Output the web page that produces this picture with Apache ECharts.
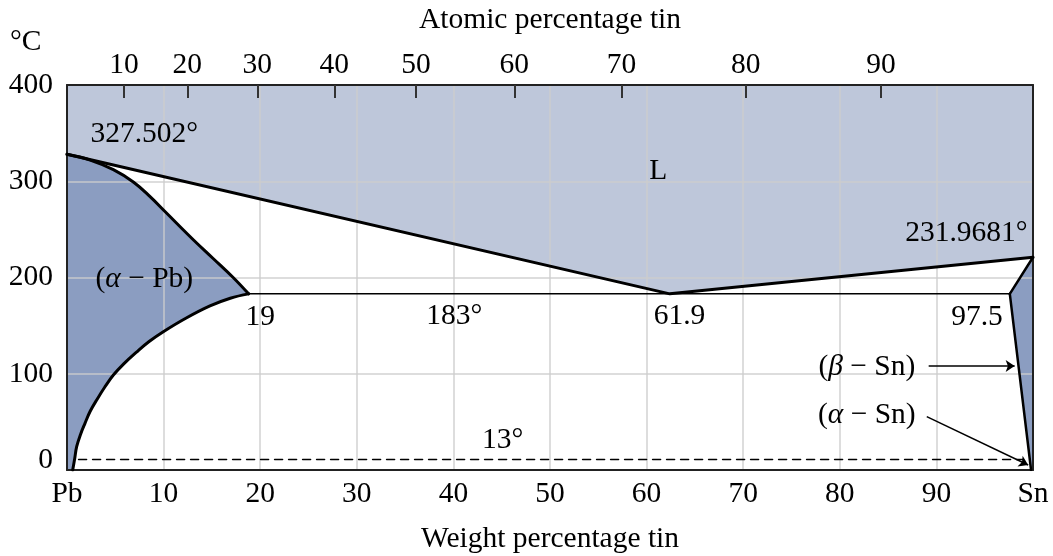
<!DOCTYPE html>
<html>
<head>
<meta charset="utf-8">
<title>Pb-Sn</title>
<script src="https://cdn.jsdelivr.net/npm/echarts@6/dist/echarts.min.js"></script>
<style>html,body{margin:0;padding:0;background:#fff}</style>
</head>
<body>
<div id="main" style="width:1053px;height:556px"></div>
<script type="text/javascript">
// weight % tin on bottom axis, temperature (deg C) on left axis
var weightTicks = [0, 10, 20, 30, 40, 50, 60, 70, 80, 90, 100];
var tempTicks = [0, 100, 200, 300, 400];
// atomic % tin labels on top axis and where they fall in weight %
var atomicTicks = [10, 20, 30, 40, 50, 60, 70, 80, 90];
var atomicTickPos = [5.9, 12.45, 19.7, 27.67, 36.13, 46.3, 57.4, 70.26, 84.27];

// phase boundaries [wt% Sn, temp]
var liquidus = [[0, 328], [62.4, 183], [100, 221]];
var solidusPb = [[0, 328], [2.4, 322], [4.8, 312], [6.9, 299], [8.6, 284], [10.3, 267],
                 [13.1, 239], [15.1, 220], [17.2, 200], [18.8, 183]];
var solvusPb = [[0.59, 0], [0.8, 12], [1.0, 24.2], [1.4, 37], [1.86, 48.5], [2.4, 61], [3.07, 72.7],
                [3.9, 86], [4.8, 98.7], [5.9, 110.5], [7.2, 122.5], [8.5, 133.5], [9.97, 143.7],
                [12.3, 157.7], [14.8, 170.5], [16.9, 178.5], [18.8, 183]];
var eutectic = [[18.8, 183], [97.6, 183]];
var solidusSn = [[97.6, 183], [100, 221]];
var solvusSn = [[97.6, 183], [99.8, 0]];
var transition = [[1.2, 11], [99, 11]];
var arrowBeta = [[89.2, 108], [98.1, 108]];
var arrowAlpha = [[89.0, 55.4], [99.5, 5.2]];

// annotation texts and the data point they sit on
var noteText = ['327.502°', 'L', '231.9681°', '({i|α} − Pb)', '19', '183°', '61.9', '97.5',
                '({i|β} − Sn)', '({i|α} − Sn)', '13°'];
var notePos = [[8.0, 349], [61.2, 310], [93.1, 246], [8.0, 198], [20.0, 159], [40.1, 160],
               [63.4, 160], [94.2, 159], [82.8, 107], [82.8, 57], [45.1, 31]];

var font = 'Liberation Serif';
var fs = 29.5;
var ink = '#000';
var lightBlue = '#bec7da';
var darkBlue = '#8b9dc1';
var gridColor = 'rgba(205,205,205,0.9)';

var chart = echarts.init(document.getElementById('main'));

function polygonSeries(name, points, color) {
    return {
        type: 'custom',
        name: name,
        z: 1,
        silent: true,
        data: [0],
        renderItem: function (params, api) {
            return {
                type: 'polygon',
                shape: { points: points.map(function (p) { return api.coord(p); }) },
                style: { fill: color }
            };
        }
    };
}

function lineSeries(data, width, type, smooth) {
    return {
        type: 'line',
        data: data,
        z: 10,
        symbol: 'none',
        silent: true,
        smooth: smooth || false,
        lineStyle: { color: ink, width: width, type: type || 'solid', cap: 'round', join: 'round' }
    };
}

function arrowSeries(pair) {
    return {
        type: 'line',
        data: [],
        z: 10,
        markLine: {
            silent: true,
            symbol: ['none', 'arrow'],
            symbolSize: 9,
            label: { show: false },
            lineStyle: { color: ink, width: 1.5, type: 'solid' },
            data: [[{ coord: pair[0] }, { coord: pair[1] }]]
        }
    };
}

var pbRegion = [[0, 0]].concat(solvusPb, solidusPb.slice().reverse());
var snRegion = [solidusSn[0], solidusSn[1], [100, 0], solvusSn[1]];
var lRegion = liquidus.concat([[100, 400], [0, 400]]);

var option = {
    animation: false,
    backgroundColor: '#fff',
    textStyle: { fontFamily: font, color: ink },
    grid: { left: 67, right: 20, top: 85, bottom: 86, containLabel: false, outerBoundsMode: 'none' },
    graphic: [{
        type: 'text', left: 10, top: 27,
        style: { text: '°C', font: fs + 'px "Liberation Serif"', fill: ink }
    }],
    xAxis: [{
        type: 'value', min: 0, max: 100, interval: 10, z: 5,
        name: 'Weight percentage tin', nameLocation: 'middle', nameGap: 54,
        nameTextStyle: { fontSize: fs, fontFamily: font, color: ink },
        axisLine: { show: true, onZero: false, lineStyle: { color: '#222', width: 2 } },
        axisTick: { show: false },
        axisLabel: {
            fontSize: fs, fontFamily: font, color: ink, margin: 9,
            formatter: function (v) { return v === 0 ? 'Pb' : v === 100 ? 'Sn' : v; }
        },
        splitLine: { show: true, lineStyle: { color: gridColor, width: 1.5 } }
    }, {
        type: 'value', min: 0, max: 100, position: 'top', z: 5,
        name: 'Atomic percentage tin', nameLocation: 'middle', nameGap: 50,
        nameTextStyle: { fontSize: fs, fontFamily: font, color: ink },
        axisLine: { show: true, onZero: false, lineStyle: { color: '#222', width: 2 } },
        axisTick: { show: true, inside: true, length: 13, customValues: atomicTickPos,
                    lineStyle: { color: '#333', width: 2 } },
        axisLabel: {
            fontSize: fs, fontFamily: font, color: ink, margin: 5,
            customValues: atomicTickPos,
            formatter: function (v) {
                for (var i = 0; i < atomicTickPos.length; i++) {
                    if (Math.abs(atomicTickPos[i] - v) < 1e-6) return atomicTicks[i];
                }
                return '';
            }
        },
        splitLine: { show: false }
    }],
    yAxis: [{
        type: 'value', min: 0, max: 400, interval: 100, z: 5,
        axisLine: { show: true, onZero: false, lineStyle: { color: '#222', width: 2 } },
        axisTick: { show: false },
        axisLabel: {
            fontSize: fs, fontFamily: font, color: ink, margin: 14,
            formatter: function (v) { return v === 0 ? '{z|0}' : v; },
            rich: { z: { fontSize: fs, fontFamily: font, color: ink, padding: [0, 0, 20, 0] } }
        },
        splitLine: { show: true, lineStyle: { color: gridColor, width: 1.5 } }
    }, {
        type: 'value', min: 0, max: 400, position: 'right', z: 5,
        axisLine: { show: true, onZero: false, lineStyle: { color: '#222', width: 2 } },
        axisTick: { show: false }, axisLabel: { show: false }, splitLine: { show: false }
    }],
    series: [
        polygonSeries('L', lRegion, lightBlue),
        polygonSeries('alphaPb', pbRegion, darkBlue),
        polygonSeries('betaSn', snRegion, darkBlue),
        lineSeries(liquidus, 3),
        lineSeries(solidusPb, 3, 'solid', 0.4),
        lineSeries(solvusPb, 3, 'solid', 0.4),
        lineSeries(eutectic, 1.5),
        lineSeries(solidusSn, 2.5),
        lineSeries(solvusSn, 2.5),
        lineSeries(transition, 1.5, [8, 6]),
        arrowSeries(arrowBeta),
        arrowSeries(arrowAlpha),
        {
            type: 'scatter', z: 12, silent: true,
            symbolSize: 1, itemStyle: { color: 'rgba(0,0,0,0)', opacity: 1 },
            data: notePos.map(function (p, i) { return { value: p, name: noteText[i] }; }),
            label: {
                show: true, position: 'inside', formatter: '{b}', opacity: 1,
                fontSize: fs, fontFamily: font, color: ink,
                rich: { i: { fontSize: fs, fontFamily: font, fontStyle: 'italic', color: ink } }
            }
        }
    ]
};

chart.setOption(option);
</script>
</body>
</html>
